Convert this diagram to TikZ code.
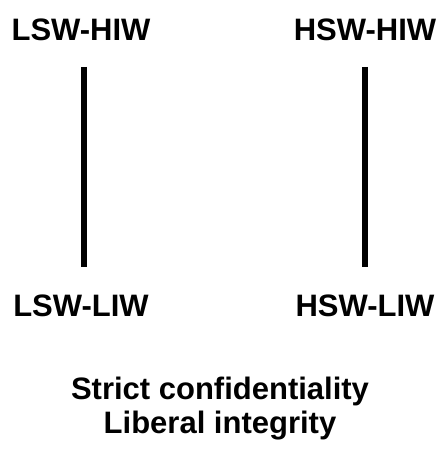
\documentclass[tikz,border=0pt]{standalone}
\usepackage{fontspec}
\setmainfont{Liberation Sans}
\begin{document}
\begin{tikzpicture}[x=1pt,y=1pt,
  lbl/.style={font=\fontsize{31}{35}\selectfont\bfseries, anchor=base, inner sep=0pt},
  bar/.style={line width=6pt}]
\useasboundingbox (0,0) rectangle (439,449);
\node[lbl] (lh) at (81,408) {LSW-HIW};
\node[lbl] (hh) at (365,408) {HSW-HIW};
\node[lbl] (ll) at (81,132) {LSW-LIW};
\node[lbl] (hl) at (365,132) {HSW-LIW};
\coordinate (a1) at (84,382);
\coordinate (a2) at (84,182);
\coordinate (b1) at (365,382);
\coordinate (b2) at (365,182);
\draw[bar] (a1) -- (a2);
\draw[bar] (b1) -- (b2);
\node[lbl] (t1) at (220,49) {Strict confidentiality};
\node[lbl] (t2) at (220,16) {Liberal integrity};
\end{tikzpicture}
\end{document}
